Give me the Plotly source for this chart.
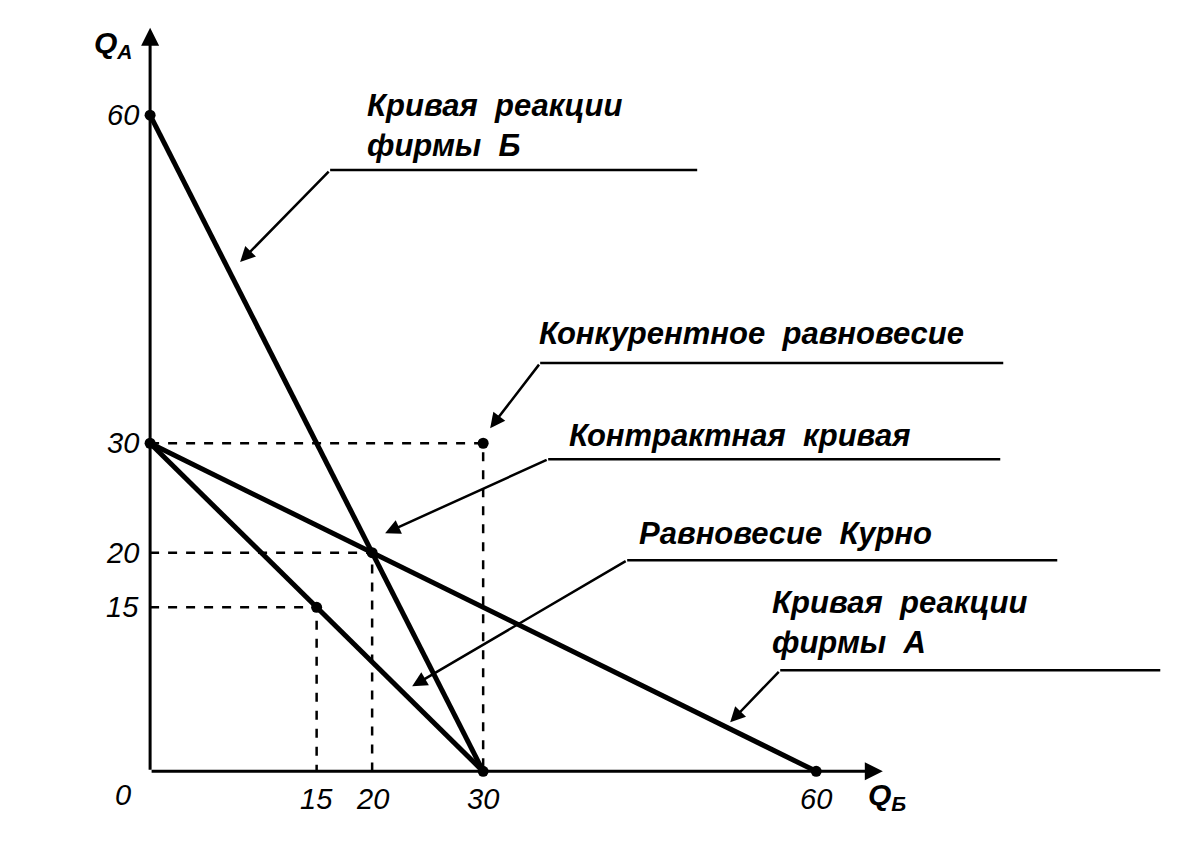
import plotly.graph_objects as go

# data
react_B = ([0, 30], [60, 0])
react_A = ([0, 60], [30, 0])
contract = ([0, 30], [30, 0])
pts_x = [0, 0, 20, 15, 30, 30, 60]
pts_y = [60, 30, 20, 15, 30, 0, 0]
dashed = [(30, 30), (20, 20), (15, 15)]
xticks = [15, 20, 30, 60]
yticks = [15, 20, 30, 60]

def P(px, py):  # pixel -> data
    return (px - 150) / 11.1, (771 - py) / 10.93

fig = go.Figure()
K = dict(color="black", width=5)
for xs, ys in [react_B, react_A, contract]:
    fig.add_trace(go.Scatter(x=xs, y=ys, mode="lines", line=K))
for dx, dy in dashed:
    fig.add_trace(go.Scatter(x=[0, dx, dx], y=[dy, dy, 0], mode="lines",
                             line=dict(color="black", width=2.5, dash="dash")))
fig.add_trace(go.Scatter(x=pts_x, y=pts_y, mode="markers",
                         marker=dict(color="black", size=11)))

ann = []
def arrow(x, y, ax, ay, w=2.5, size=1.2):
    ann.append(dict(x=x, y=y, ax=ax, ay=ay, xref="x", yref="y", axref="x", ayref="y",
                    text="", showarrow=True, arrowhead=2, arrowsize=size,
                    arrowwidth=w, arrowcolor="black"))
def text(px, py, t, size=31, xa="left", ya="top"):
    x, y = P(px, py)
    ann.append(dict(x=x, y=y, xref="x", yref="y", text="<b><i>" + t + "</i></b>",
                    showarrow=False, xanchor=xa, yanchor=ya, align="left",
                    font=dict(family="Liberation Sans", size=size, color="black")))

# axes
arrow(66, 0, 0, 0, w=3, size=1.2)
arrow(0, 68, 0, 0, w=3, size=1.2)

TF = dict(family="Liberation Sans", size=29, color="black")
for v in yticks:
    ann.append(dict(x=-0.8, y=v, xref="x", yref="y", text="<i>%d</i>" % v, showarrow=False,
                    xanchor="right", yanchor="middle", font=TF))
for v in xticks:
    ann.append(dict(x=v, y=-0.9, xref="x", yref="y", text="<i>%d</i>" % v, showarrow=False,
                    xanchor="center", yanchor="top", font=TF))
ann.append(dict(x=-1.5, y=-0.5, xref="x", yref="y", text="<i>0</i>", showarrow=False,
                xanchor="right", yanchor="top", font=TF))
text(92, 24, "Q<sub>A</sub>", size=30)
text(866, 776, "Q<sub>Б</sub>", size=30)

labels = [
    ((365, 86), "Кривая  реакции<br>фирмы  Б", (330, 170, 697), (240, 262)),
    ((537, 314), "Конкурентное  равновесие", (540, 363, 1003), (490, 428)),
    ((567, 416), "Контрактная  кривая", (548, 459, 1000), (385, 533)),
    ((637, 514), "Равновесие  Курно", (627, 560, 1057), (412, 686)),
    ((770, 583), "Кривая  реакции<br>фирмы  А", (780, 670, 1160), (730, 722)),
]
for (tx, ty), t, (lx0, ly, lx1), (hx, hy) in labels:
    text(tx, ty, t)
    a0 = P(lx0, ly); a1 = P(lx1, ly); h = P(hx, hy)
    fig.add_trace(go.Scatter(x=[a0[0], a1[0]], y=[a0[1], a1[1]], mode="lines",
                             line=dict(color="black", width=2.5)))
    arrow(h[0], h[1], a0[0], a0[1])

fig.update_layout(width=1199, height=841, margin=dict(l=0, r=0, t=0, b=0),
                  plot_bgcolor="white", paper_bgcolor="white", showlegend=False,
                  annotations=ann,
                  xaxis=dict(range=[-12.8, 95.2], visible=False),
                  yaxis=dict(range=[-7.1, 69.8], visible=False))
fig.write_html("out.html")
